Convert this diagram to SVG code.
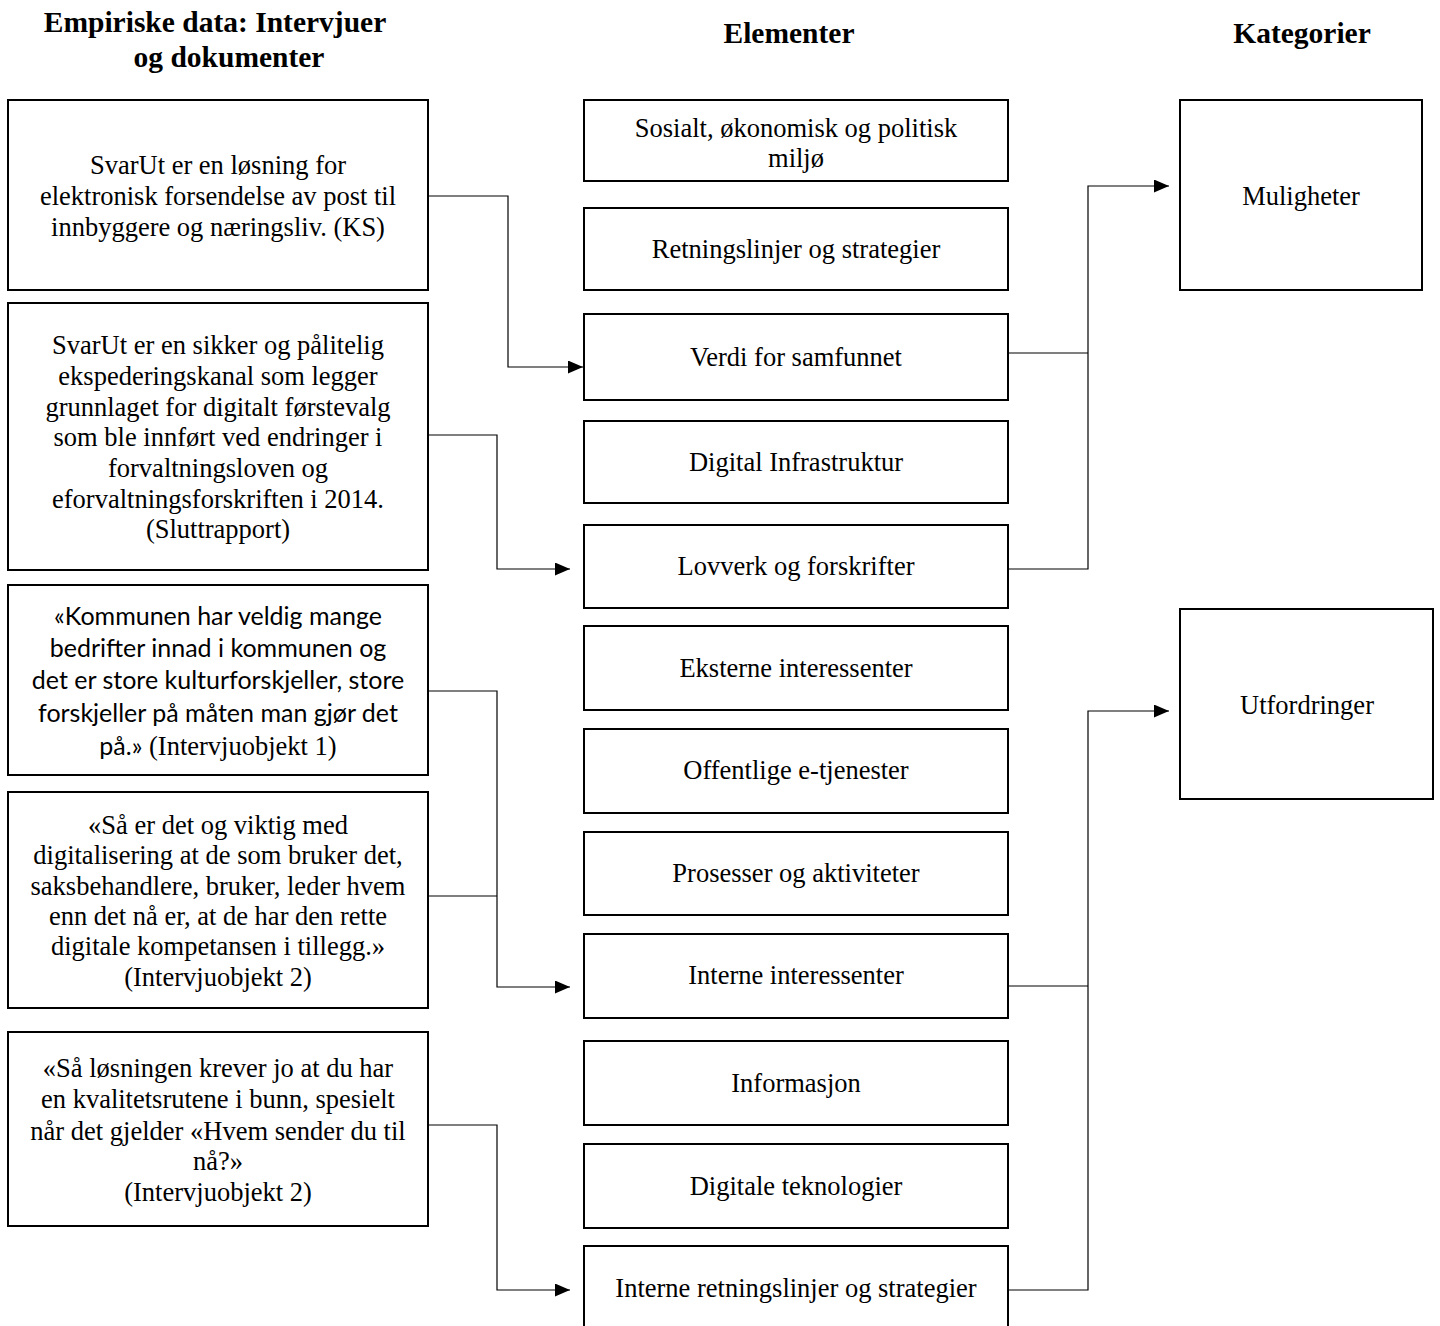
<svg xmlns="http://www.w3.org/2000/svg" width="1440" height="1326" viewBox="0 0 1440 1326">
<style>
.box{fill:#fff;stroke:#000;stroke-width:2}
.t{font-family:"Liberation Serif","Times New Roman",serif;font-size:26.5px;fill:#000;text-anchor:middle}
.s{font-family:Lato,"Liberation Sans",sans-serif;font-size:25px}
.h{font-family:"Liberation Serif","Times New Roman",serif;font-size:29.5px;font-weight:bold;fill:#000;text-anchor:middle}
.c{fill:none;stroke:#000;stroke-width:1.2}
</style>
<defs>
<marker id="arr" viewBox="0 0 15 13" refX="15" refY="6.5" markerWidth="15" markerHeight="13" markerUnits="userSpaceOnUse" orient="auto">
<path d="M0,0 L15,6.5 L0,13 z" fill="#000"/>
</marker>
</defs>
<rect width="1440" height="1326" fill="#fff"/>
<g id="headers">
<text class="h" x="215" y="32">Empiriske data: Intervjuer</text>
<text class="h" x="229" y="67">og dokumenter</text>
<text class="h" x="789" y="43">Elementer</text>
<text class="h" x="1302" y="43">Kategorier</text>
</g>
<g id="connectors">
<path class="c" d="M428,196 H508 V367 H583" marker-end="url(#arr)"/>
<path class="c" d="M428,435 H497 V569 H570" marker-end="url(#arr)"/>
<path class="c" d="M428,691 H497 V987 H570" marker-end="url(#arr)"/>
<path class="c" d="M428,896 H497"/>
<path class="c" d="M428,1125 H497 V1290 H570" marker-end="url(#arr)"/>
<path class="c" d="M1008,353 H1088"/>
<path class="c" d="M1008,569 H1088 V186 H1169" marker-end="url(#arr)"/>
<path class="c" d="M1008,986 H1088"/>
<path class="c" d="M1008,1290 H1088 V711 H1169" marker-end="url(#arr)"/>
</g>
<g id="src1">
<rect class="box" x="8" y="100" width="420" height="190"/>
<text class="t" x="218" y="174">SvarUt er en løsning for</text>
<text class="t" x="218" y="205">elektronisk forsendelse av post til</text>
<text class="t" x="218" y="236">innbyggere og næringsliv. (KS)</text>
</g>
<g id="src2">
<rect class="box" x="8" y="303" width="420" height="267"/>
<text class="t" x="218" y="354">SvarUt er en sikker og pålitelig</text>
<text class="t" x="218" y="385">ekspederingskanal som legger</text>
<text class="t" x="218" y="416">grunnlaget for digitalt førstevalg</text>
<text class="t" x="218" y="446">som ble innført ved endringer i</text>
<text class="t" x="218" y="477">forvaltningsloven og</text>
<text class="t" x="218" y="508">eforvaltningsforskriften i 2014.</text>
<text class="t" x="218" y="538">(Sluttrapport)</text>
</g>
<g id="src3">
<rect class="box" x="8" y="585" width="420" height="190"/>
<text class="t s" x="218" y="625">«Kommunen har veldig mange</text>
<text class="t s" x="218" y="657">bedrifter innad i kommunen og</text>
<text class="t s" x="218" y="689">det er store kulturforskjeller, store</text>
<text class="t s" x="218" y="722">forskjeller på måten man gjør det</text>
<text class="t" x="218" y="755"><tspan class="s">på.»</tspan> (Intervjuobjekt 1)</text>
</g>
<g id="src4">
<rect class="box" x="8" y="792" width="420" height="216"/>
<text class="t" x="218" y="834">«Så er det og viktig med</text>
<text class="t" x="218" y="864">digitalisering at de som bruker det,</text>
<text class="t" x="218" y="895">saksbehandlere, bruker, leder hvem</text>
<text class="t" x="218" y="925">enn det nå er, at de har den rette</text>
<text class="t" x="218" y="955">digitale kompetansen i tillegg.»</text>
<text class="t" x="218" y="986">(Intervjuobjekt 2)</text>
</g>
<g id="src5">
<rect class="box" x="8" y="1032" width="420" height="194"/>
<text class="t" x="218" y="1077">«Så løsningen krever jo at du har</text>
<text class="t" x="218" y="1108">en kvalitetsrutene i bunn, spesielt</text>
<text class="t" x="218" y="1140">når det gjelder «Hvem sender du til</text>
<text class="t" x="218" y="1170">nå?»</text>
<text class="t" x="218" y="1201">(Intervjuobjekt 2)</text>
</g>
<g id="el1"><rect class="box" x="584" y="100" width="424" height="81"/><text class="t" x="796" y="137">Sosialt, økonomisk og politisk</text><text class="t" x="796" y="167">miljø</text></g>
<g id="el2"><rect class="box" x="584" y="208" width="424" height="82"/><text class="t" x="796" y="258">Retningslinjer og strategier</text></g>
<g id="el3"><rect class="box" x="584" y="314" width="424" height="86"/><text class="t" x="796" y="366">Verdi for samfunnet</text></g>
<g id="el4"><rect class="box" x="584" y="421" width="424" height="82"/><text class="t" x="796" y="471">Digital Infrastruktur</text></g>
<g id="el5"><rect class="box" x="584" y="525" width="424" height="83"/><text class="t" x="796" y="575">Lovverk og forskrifter</text></g>
<g id="el6"><rect class="box" x="584" y="626" width="424" height="84"/><text class="t" x="796" y="677">Eksterne interessenter</text></g>
<g id="el7"><rect class="box" x="584" y="729" width="424" height="84"/><text class="t" x="796" y="779">Offentlige e-tjenester</text></g>
<g id="el8"><rect class="box" x="584" y="832" width="424" height="83"/><text class="t" x="796" y="882">Prosesser og aktiviteter</text></g>
<g id="el9"><rect class="box" x="584" y="934" width="424" height="84"/><text class="t" x="796" y="984">Interne interessenter</text></g>
<g id="el10"><rect class="box" x="584" y="1041" width="424" height="84"/><text class="t" x="796" y="1092">Informasjon</text></g>
<g id="el11"><rect class="box" x="584" y="1144" width="424" height="84"/><text class="t" x="796" y="1195">Digitale teknologier</text></g>
<g id="el12"><rect class="box" x="584" y="1246" width="424" height="84"/><text class="t" x="796" y="1297">Interne retningslinjer og strategier</text></g>
<g id="cat1"><rect class="box" x="1180" y="100" width="242" height="190"/><text class="t" x="1301" y="205">Muligheter</text></g>
<g id="cat2"><rect class="box" x="1180" y="609" width="253" height="190"/><text class="t" x="1307" y="714">Utfordringer</text></g>
</svg>
